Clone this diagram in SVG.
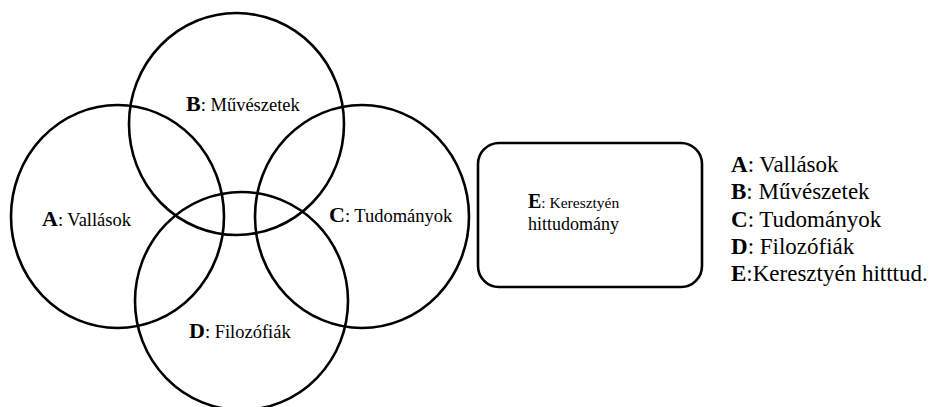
<svg xmlns="http://www.w3.org/2000/svg" width="936" height="407" viewBox="0 0 936 407">
<style>
.c{fill:none;stroke:#000;stroke-width:2.6}
text{font-family:'Liberation Serif','Times New Roman',Tinos,Times,'DejaVu Serif',serif;fill:#000}
.b{font-weight:bold}
.lbl{font-size:18.5px}
.big{font-size:22px}
.leg{font-size:23px}
</style>
<rect width="936" height="407" fill="#fff"/>
<g id="circle-A"><ellipse class="c" cx="117.5" cy="216.5" rx="106.5" ry="111.5"/>
<text class="lbl" x="42" y="226"><tspan class="b big">A</tspan>: Vallások</text></g>
<g id="circle-B"><ellipse class="c" cx="236.5" cy="124" rx="107.5" ry="111"/>
<text class="lbl" x="186" y="111"><tspan class="b big">B</tspan>: Művészetek</text></g>
<g id="circle-C"><ellipse class="c" cx="362" cy="216.5" rx="107" ry="111.5"/>
<text class="lbl" x="329" y="222"><tspan class="b big">C</tspan>: Tudományok</text></g>
<g id="circle-D"><ellipse class="c" cx="241.5" cy="301" rx="106.5" ry="109"/>
<text class="lbl" x="189" y="338"><tspan class="b big">D</tspan>: Filozófiák</text></g>
<g id="box-E"><rect class="c" x="478" y="143" width="224" height="144" rx="21"/>
<text x="528" y="208"><tspan class="b" font-size="20">E</tspan><tspan font-size="15.5">: Keresztyén</tspan></text>
<text x="528" y="230" font-size="18">hittudomány</text></g>
<g id="legend">
<text class="leg" x="731" y="172"><tspan class="b">A</tspan>: Vallások</text>
<text class="leg" x="731" y="199"><tspan class="b">B</tspan>: Művészetek</text>
<text class="leg" x="731" y="227"><tspan class="b">C</tspan>: Tudományok</text>
<text class="leg" x="731" y="254"><tspan class="b">D</tspan>: Filozófiák</text>
<text class="leg" x="731" y="281"><tspan class="b">E</tspan>:Keresztyén hitttud.</text>
</g>
<g id="connectors"/>
</svg>
